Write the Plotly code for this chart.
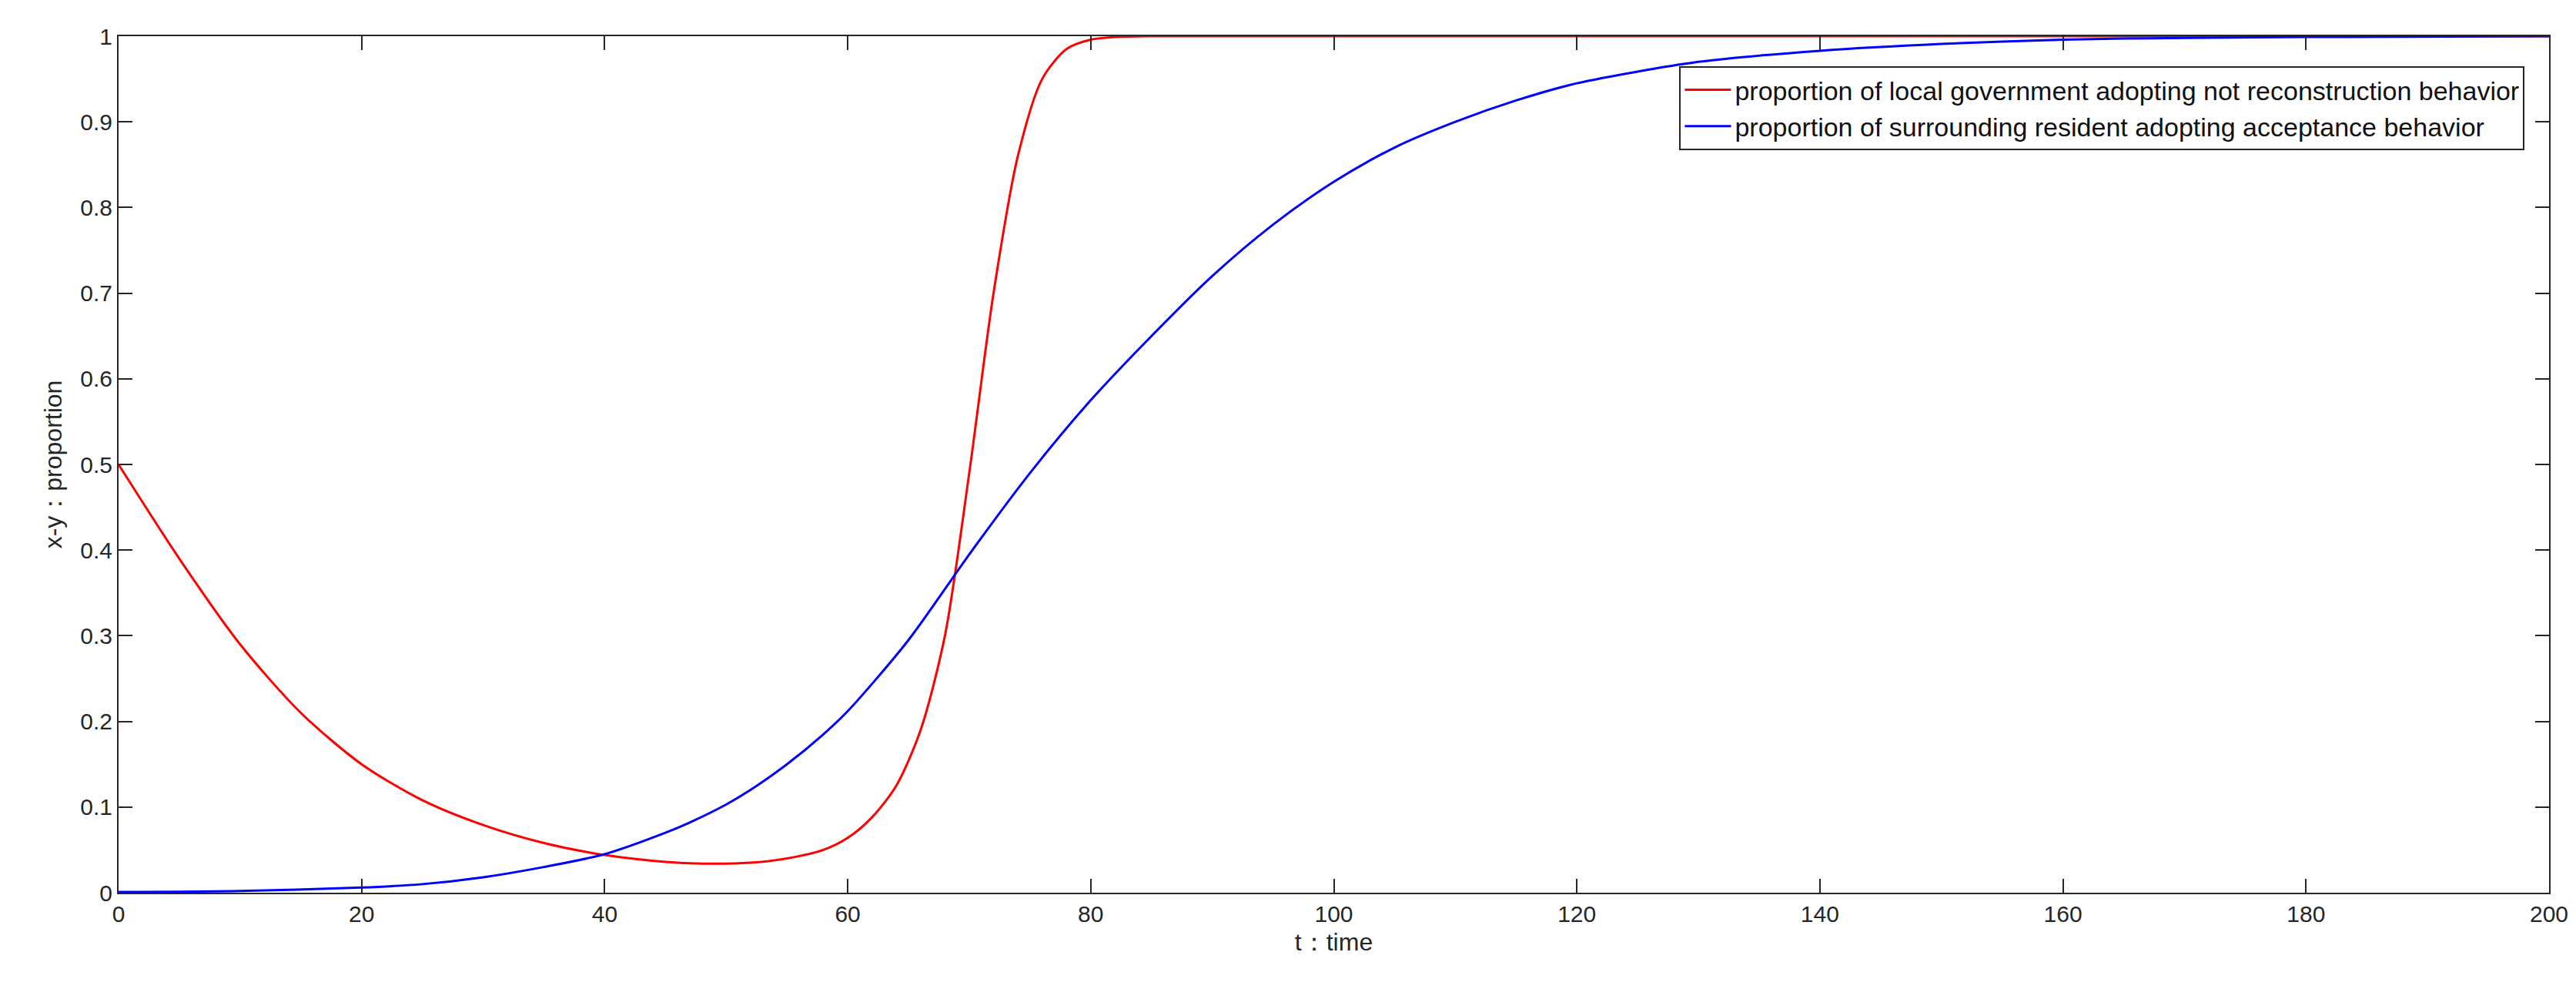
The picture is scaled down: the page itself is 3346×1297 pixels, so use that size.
import plotly.graph_objects as go

t_red = [0, 5, 10, 15, 20, 25, 30, 35, 40, 45, 48, 52, 55, 58, 60, 62, 64, 66, 68, 70, 72, 74, 76, 78, 80, 82, 85, 100, 150, 200]
y_red = [0.5, 0.39, 0.29, 0.21, 0.15, 0.108, 0.079, 0.058, 0.044, 0.036, 0.034, 0.035, 0.04, 0.05, 0.064, 0.088, 0.125, 0.19, 0.3, 0.49, 0.7, 0.86, 0.95, 0.985, 0.996, 0.999, 1.0, 1.0, 1.0, 1.0]
t_blue = [0, 10, 20, 25, 30, 35, 40, 45, 47, 50, 52, 55, 58, 60, 65, 70, 75, 80, 85, 90, 95, 100, 105, 110, 115, 120, 130, 140, 150, 160, 170, 180, 200]
y_blue = [0.001, 0.002, 0.006, 0.01, 0.018, 0.03, 0.045, 0.07, 0.082, 0.103, 0.12, 0.15, 0.185, 0.212, 0.295, 0.395, 0.49, 0.575, 0.65, 0.72, 0.78, 0.83, 0.87, 0.9, 0.925, 0.945, 0.97, 0.983, 0.991, 0.996, 0.998, 0.999, 1.0]

names = ["proportion of local government adopting not reconstruction behavior",
         "proportion of surrounding resident adopting acceptance behavior"]
x_ticks = list(range(0, 201, 20))
y_ticks = [0, 0.1, 0.2, 0.3, 0.4, 0.5, 0.6, 0.7, 0.8, 0.9, 1]
y_labels = ["0", "0.1", "0.2", "0.3", "0.4", "0.5", "0.6", "0.7", "0.8", "0.9", "1"]

fig = go.Figure()
fig.add_trace(go.Scatter(x=t_red, y=y_red, mode="lines", name=names[0],
                         line=dict(color="#ff0000", width=3, shape="spline", smoothing=0.8)))
fig.add_trace(go.Scatter(x=t_blue, y=y_blue, mode="lines", name=names[1],
                         line=dict(color="#0000ff", width=3, shape="spline", smoothing=0.8)))

axis = dict(showgrid=False, zeroline=False, showline=True, linecolor="#262626", linewidth=2,
            mirror="ticks", ticks="inside", ticklen=18, tickwidth=2, tickcolor="#262626",
            tickfont=dict(family="Liberation Sans", size=30, color="#262626"))
fig.update_xaxes(range=[0, 200], tickvals=x_ticks, title=dict(text="t：time", font=dict(size=32, family="Liberation Sans", color="#262626"), standoff=10), **axis)
fig.update_yaxes(range=[0, 1], tickvals=y_ticks, ticktext=y_labels, title=dict(text="x-y：proportion", font=dict(size=32, family="Liberation Sans", color="#262626"), standoff=14), **axis)

fig.update_layout(
    width=3346, height=1297, plot_bgcolor="white", paper_bgcolor="white",
    margin=dict(l=146, r=43, t=39, b=146),
    showlegend=True,
    legend=dict(x=0.99, y=0.965, xanchor="right", yanchor="top", bgcolor="white",
                bordercolor="#262626", borderwidth=2,
                font=dict(family="Liberation Sans", size=34, color="#111"),
                itemwidth=60, tracegroupgap=0),
)
fig.write_html("out.html")
